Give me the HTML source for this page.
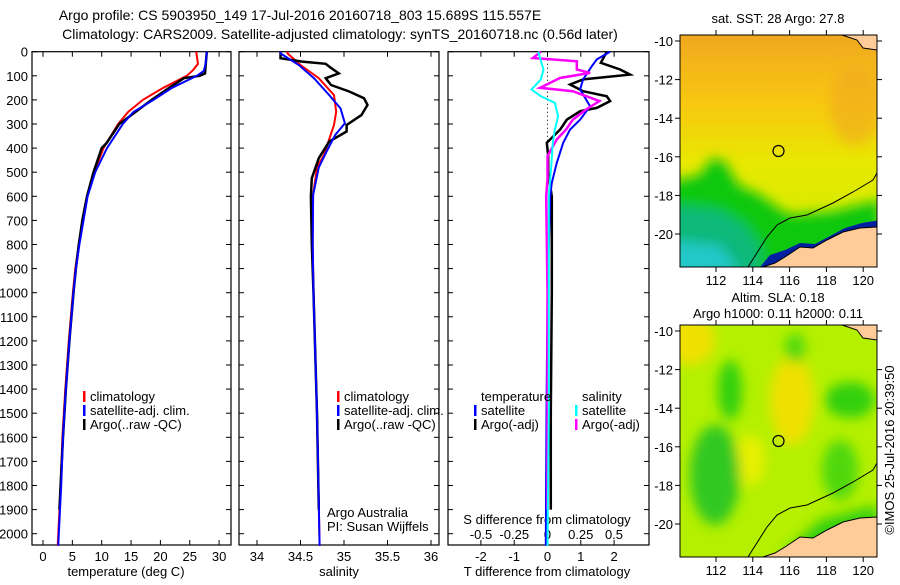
<!DOCTYPE html>
<html><head><meta charset="utf-8"><style>
body{margin:0;background:#fff}
svg{font-family:"Liberation Sans",sans-serif;font-size:13px}
</style></head><body>
<svg id="s" width="900" height="580" xmlns="http://www.w3.org/2000/svg">
<defs>
<filter id="bl" x="-20%" y="-20%" width="140%" height="140%"><feGaussianBlur stdDeviation="6"/></filter>
<clipPath id="c1"><rect x="680" y="35" width="197" height="232"/></clipPath>
<clipPath id="c2"><rect x="680" y="325" width="197" height="232"/></clipPath>
<linearGradient id="sstg" x1="0" y1="0" x2="0" y2="1">
<stop offset="0" stop-color="#f0a820"/><stop offset="0.3" stop-color="#f8c810"/><stop offset="0.55" stop-color="#e8e800"/><stop offset="1" stop-color="#c8f000"/></linearGradient>
</defs>
<text x="300" y="20" text-anchor="middle" font-size="14">Argo profile: CS 5903950_149 17-Jul-2016 20160718_803 15.689S 115.557E</text>
<text x="340" y="39" text-anchor="middle" font-size="14">Climatology: CARS2009. Satellite-adjusted climatology: synTS_20160718.nc (0.56d later)</text>
<g id="g1"></g>
<g id="g2"></g>
<g id="g3"></g>

<g>
<g clip-path="url(#c1)">
<rect x="680" y="35" width="197" height="232" fill="url(#sstg)"/>
<g filter="url(#bl)">
<ellipse cx="855" cy="105" rx="25" ry="40" fill="#f0a820" opacity="0.6"/>
<polygon points="670,182 700,175 712,158 725,162 738,185 760,195 778,208 790,215 830,212 880,200 880,280 670,280" fill="#10c810"/>
<polygon points="670,205 720,210 745,225 760,245 760,280 670,280" fill="#10b878"/>
<polygon points="670,240 720,245 740,270 670,280" fill="#20c8c8"/>
</g>
<polygon points="760,267 770,255 785,250 800,243 815,244 830,236 845,228 862,223 880,220 880,250 860,228 843,232 827,240 813,248 800,247 785,257 775,263 763,267" fill="#0020a0"/>
<polygon points="763,267 775,263 785,257 800,247 813,248 827,240 843,232 860,228 877,227 877,267" fill="#ffcc99" stroke="#000" stroke-width="1"/>
<polygon points="842,35 857,40 863,48 877,50 877,35" fill="#ffcc99" stroke="#000" stroke-width="1"/>
<polyline points="748,267 767,237 777,225 790,218 807,215 833,203 853,192 873,180 877,173" fill="none" stroke="#000" stroke-width="1"/>
<circle cx="778.5" cy="151" r="5.5" fill="none" stroke="#000" stroke-width="1.2"/>
</g>
<rect x="680" y="35" width="197" height="232" fill="none" stroke="#000"/>
<text x="778" y="23" text-anchor="middle">sat. SST: 28 Argo: 27.8</text>
</g>

<g>
<g clip-path="url(#c2)">
<rect x="680" y="325" width="197" height="232" fill="#b4f000"/>
<g filter="url(#bl)">
<ellipse cx="690" cy="340" rx="25" ry="25" fill="#f0e000"/>
<ellipse cx="792" cy="400" rx="22" ry="45" fill="#f0e000"/>
<ellipse cx="750" cy="460" rx="15" ry="25" fill="#e8f000"/>
<ellipse cx="730" cy="390" rx="12" ry="30" fill="#30d010"/>
<ellipse cx="850" cy="400" rx="25" ry="18" fill="#30d010"/>
<ellipse cx="715" cy="475" rx="25" ry="50" fill="#30c820"/>
<ellipse cx="840" cy="470" rx="18" ry="30" fill="#50d810"/>
<ellipse cx="795" cy="348" rx="10" ry="15" fill="#50d810"/>
<polygon points="780,557 820,520 877,505 877,557" fill="#30d010"/>
</g>
<polygon points="763,557 775,553 785,547 800,537 813,538 827,530 843,522 860,518 877,517 877,557" fill="#ffcc99" stroke="#000" stroke-width="1"/>
<polygon points="842,325 857,330 863,338 877,340 877,325" fill="#ffcc99" stroke="#000" stroke-width="1"/>
<polyline points="748,557 767,527 777,515 790,508 807,505 833,493 853,482 873,470 877,463" fill="none" stroke="#000" stroke-width="1"/>
<circle cx="778.5" cy="441" r="5.5" fill="none" stroke="#000" stroke-width="1.2"/>
</g>
<rect x="680" y="325" width="197" height="232" fill="none" stroke="#000"/>
<text x="778" y="302" text-anchor="middle">Altim. SLA: 0.18</text>
<text x="778" y="318" text-anchor="middle">Argo h1000: 0.11 h2000: 0.11</text>
</g>
<g id="mapax"></g>
<text transform="translate(894,450) rotate(-90)" text-anchor="middle">©IMOS 25-Jul-2016 20:39:50</text>
</svg>
<script>
// ---- data ----
const depthTicks=[0,100,200,300,400,500,600,700,800,900,1000,1100,1200,1300,1400,1500,1600,1700,1800,1900,2000];
const tempTicks=[0,5,10,15,20,25,30];
const salTicks=[34,34.5,35,35.5,36];
const tdTicks=[-2,-1,0,1,2];
const sdTicks=[-0.5,-0.25,0,0.25,0.5];
const sdTickLabels=["-0.5","-0.25","0","0.25","0.5"];
const lonTicks=[112,114,116,118,120];
const latTicks=[-10,-12,-14,-16,-18,-20];

const climTD=[0,50,75,100,150,200,250,300,400,500,600,700,800,900,1000,1200,1400,1600,1800,2000,2050];
const climT=[26.1,26.4,25.6,24.5,20.5,17,14.5,12.8,10.3,8.7,7.5,6.8,6.1,5.5,5.1,4.4,3.8,3.3,3.0,2.6,2.5];
const satTD=[0,50,80,100,150,200,250,300,400,500,600,700,800,900,1000,1200,1400,1600,1800,2000,2050];
const satT=[27.9,27.7,27.4,26.2,22,18.8,15.4,13.6,10.9,8.9,7.6,6.9,6.2,5.6,5.2,4.5,3.9,3.4,3.1,2.7,2.6];
const argoTD=[0,90,100,110,150,200,300,380,400,500,600,700,800,900,1000,1200,1400,1600,1800,1900];
const argoT=[27.9,27.6,26.7,24,21.5,18.5,13.0,10.8,10.0,8.6,7.5,6.7,6.1,5.6,5.2,4.5,3.9,3.4,3.0,2.8];

const climSD=[0,7,55,110,180,249,304,358,428,480,595,800,1000,1500,2050];
const climS=[34.35,34.35,34.5,34.71,34.885,34.91,34.885,34.835,34.77,34.69,34.645,34.64,34.65,34.69,34.72];
const satSD=[0,7,55,110,180,235,297,345,414,480,595,800,1000,1500,2050];
const satS=[34.27,34.27,34.48,34.655,34.83,34.96,35.01,34.9,34.8,34.71,34.645,34.64,34.65,34.69,34.72];
const argoSD=[0,27,41,50,62,90,110,138,165,193,221,263,304,331,373,442,525,600,800,1000,1500,1900];
const argoS=[34.27,34.27,34.52,34.79,34.83,34.94,34.79,34.85,35.06,35.23,35.27,35.2,35.03,35.03,34.83,34.71,34.63,34.62,34.63,34.65,34.69,34.71];

const dTD=[0,32,60,115,157,226,282,323,378,461,544,600,1000,1500,2050];
const satDT=[1.88,1.48,1.33,1.07,0.98,1.28,0.98,0.68,0.47,0.28,0.13,0.08,0.0,-0.03,-0.05];
const aTD=[0,46,74,95,115,136,164,185,205,233,247,282,323,378,433,502,600,1000,1500,1900];
const argoDT=[1.78,1.6,2.18,2.48,1.07,0.68,1.07,1.78,1.88,1.48,0.98,0.58,0.38,-0.02,0.02,0.02,0.13,0.13,0.1,0.1];
const aSD=[0,26,40,74,88,109,150,164,205,240,282,323,364,433,530,600,1000,1500,1900];
const argoDS=[-0.05,-0.11,0.22,0.22,0.32,0.094,-0.056,0.19,0.39,0.29,0.19,0.14,0.07,0,0,-0.01,0,0,0];
const sSD=[0,74,115,157,185,212,268,323,378,461,600,1000,1500,2050];
const satDS=[-0.07,-0.03,-0.05,-0.12,-0.05,0.056,0.08,0.056,0.04,0.03,0.01,0.01,0.01,0.0];

// ---- scales ----
const Y=d=>51.7+d*0.241;
const xT=t=>43+t*5.87;
const xS=s=>257+(s-34)*87;
const xTD=t=>547.5+t*33.3;
const xSD=s=>547.5+s*133;
const NS="http://www.w3.org/2000/svg";
function mk(p,tag,at,txt){const e=document.createElementNS(NS,tag);for(const k in at)e.setAttribute(k,at[k]);if(txt!==undefined)e.textContent=txt;p.appendChild(e);return e;}
function line(p,ds,vs,fx,col,name,w){
 const pts=ds.map((d,i)=>fx(vs[i]).toFixed(1)+","+Y(d).toFixed(1)).join(" ");
 const e=mk(p,"polyline",{points:pts,fill:"none",stroke:col,"stroke-width":w||2});
 
 
}
function frame(p,x0,x1,name){
 const r=mk(p,"rect",{x:x0,y:51.7,width:x1-x0,height:545-51.7,fill:"none",stroke:"#000","stroke-width":1.2});
 
 
 depthTicks.forEach(d=>{mk(p,"line",{x1:x0,x2:x0+5,y1:Y(d),y2:Y(d),stroke:"#000"});mk(p,"line",{x1:x1,x2:x1-5,y1:Y(d),y2:Y(d),stroke:"#000"});});
}
function xticks(p,ticks,labels,f,ly){
 ticks.forEach((t,i)=>{const x=f(t);mk(p,"line",{x1:x,x2:x,y1:545,y2:540,stroke:"#000"});mk(p,"line",{x1:x,x2:x,y1:51.7,y2:56.7,stroke:"#000"});
  if(ly){const e=mk(p,"text",{x:x,y:ly,"text-anchor":"middle"},labels[i]);}});
}
function leg(p,x,y,col,txt){
 if(col)mk(p,"rect",{x:x-7,y:y-10,width:2.5,height:11,fill:col});
 const e=mk(p,"text",{x:x,y:y},txt);
 
 
}
// panel 1
const g1=document.getElementById("g1");
frame(g1,32,231,"temperature-plot-frame");
depthTicks.forEach(d=>{const e=mk(g1,"text",{x:28,y:Y(d)+5,"text-anchor":"end"},String(d));});
xticks(g1,tempTicks,tempTicks.map(String),xT,561);
mk(g1,"text",{x:126,y:576,"text-anchor":"middle"},"temperature (deg C)");
line(g1,climTD,climT,xT,"#f00","temp-climatology-line");
line(g1,argoTD,argoT,xT,"#000","temp-argo-line",2.5);
line(g1,satTD,satT,xT,"#00f","temp-satellite-line");
leg(g1,90,401,"#f00","climatology");leg(g1,90,415,"#00f","satellite-adj. clim.");leg(g1,90,429,"#000","Argo(..raw -QC)");
// panel 2
const g2=document.getElementById("g2");
frame(g2,239,439,"salinity-plot-frame");
xticks(g2,salTicks,salTicks.map(String),xS,561);
mk(g2,"text",{x:339,y:576,"text-anchor":"middle"},"salinity");
line(g2,climSD,climS,xS,"#f00","sal-climatology-line");
line(g2,argoSD,argoS,xS,"#000","sal-argo-line",2.5);
line(g2,satSD,satS,xS,"#00f","sal-satellite-line");
leg(g2,344,401,"#f00","climatology");leg(g2,344,415,"#00f","satellite-adj. clim.");leg(g2,344,429,"#000","Argo(..raw -QC)");
mk(g2,"text",{x:327,y:517},"Argo Australia");
mk(g2,"text",{x:327,y:531},"PI: Susan Wijffels");
// panel 3
const g3=document.getElementById("g3");
frame(g3,448,649,"difference-plot-frame");
xticks(g3,tdTicks,tdTicks.map(String),xTD,561);
sdTicks.forEach((t,i)=>{const e=mk(g3,"text",{x:xSD(t),y:539,"text-anchor":"middle"},sdTickLabels[i]);});
mk(g3,"text",{x:547,y:524,"text-anchor":"middle"},"S difference from climatology");
mk(g3,"text",{x:547,y:576,"text-anchor":"middle"},"T difference from climatology");
mk(g3,"line",{x1:547.5,x2:547.5,y1:51.7,y2:Y(420),stroke:"#000","stroke-dasharray":"1,3"});
line(g3,aTD,argoDT,xTD,"#000","tdiff-argo-line",2.5);
line(g3,dTD,satDT,xTD,"#00f","tdiff-satellite-line");
line(g3,aSD,argoDS,xSD,"#f0f","sdiff-argo-line",2.5);
line(g3,sSD,satDS,xSD,"#0ff","sdiff-satellite-line");
leg(g3,481,401,null,"temperature");leg(g3,481,415,"#00f","satellite");leg(g3,481,429,"#000","Argo(-adj)");
leg(g3,582,401,null,"salinity");leg(g3,582,415,"#0ff","satellite");leg(g3,582,429,"#f0f","Argo(-adj)");
// map axes
const ma=document.getElementById("mapax");
const lonX=l=>716+(l-112)*18.4;
[[35,267,41],[325,557,331]].forEach(([t,b,y10])=>{
 lonTicks.forEach(l=>{const x=lonX(l);mk(ma,"line",{x1:x,x2:x,y1:b,y2:b+5,stroke:"#000"});mk(ma,"line",{x1:x,x2:x,y1:t,y2:t-5,stroke:"#000"});
  const e=mk(ma,"text",{x:x,y:b+18,"text-anchor":"middle"},String(l));});
 latTicks.forEach(la=>{const y=y10+(-10-la)*19.3;mk(ma,"line",{x1:680,x2:675,y1:y,y2:y,stroke:"#000"});mk(ma,"line",{x1:877,x2:882,y1:y,y2:y,stroke:"#000"});
  const e=mk(ma,"text",{x:673,y:y+5,"text-anchor":"end"},String(la));});
});
</script>
</body></html>
